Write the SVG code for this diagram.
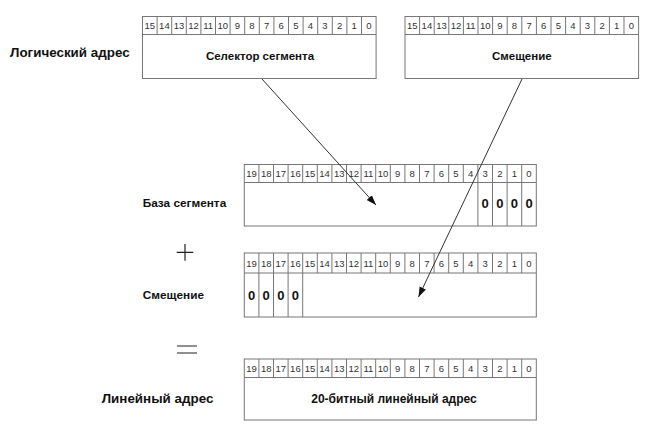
<svg xmlns="http://www.w3.org/2000/svg" width="646" height="431" viewBox="0 0 646 431">
<style>
.box{fill:#fff;stroke:#777;stroke-width:1}
.div{fill:none;stroke:#777;stroke-width:1}
.n{font-family:"Liberation Sans",Arial,sans-serif;font-size:9.5px;fill:#333;text-anchor:middle}
.lbl{font-family:"Liberation Sans",Arial,sans-serif;font-size:11.8px;font-weight:bold;fill:#111}
.big{font-size:13.4px}
.in{font-family:"Liberation Sans",Arial,sans-serif;font-size:11.5px;font-weight:bold;fill:#111;text-anchor:middle}
.z{font-family:"Liberation Sans",Arial,sans-serif;font-size:13px;font-weight:bold;fill:#111;text-anchor:middle}
.op{fill:none;stroke:#222;stroke-width:1.2}
.arr{fill:none;stroke:#333;stroke-width:1}
</style>
<defs>
<marker id="ah" markerUnits="userSpaceOnUse" markerWidth="11" markerHeight="8" refX="10" refY="3.5" orient="auto">
<path d="M0,0 L10,3.5 L0,7 z" fill="#111"/>
</marker>
</defs>
<rect width="646" height="431" fill="#fff"/>

<g id="labels">
<text class="lbl big" x="10" y="57">Логический адрес</text>
<text class="lbl" x="142.7" y="206.5">База сегмента</text>
<text class="lbl" x="142.7" y="298.5">Смещение</text>
<text class="lbl big" x="101.7" y="402.5">Линейный адрес</text>
</g>

<g id="operators">
<path class="op" d="M176.7,252.3 H193.3 M185,244 V260.7"/>
<path class="op" d="M177,346 H197 M177,353 H197"/>
</g>

<g id="selector">
<rect class="box" x="142.5" y="16.5" width="233.6" height="62"/>
<path class="div" d="M142.5,34.5 H376.1 M157.1,16.5 v18 m14.6,-18 v18 m14.6,-18 v18 m14.6,-18 v18 m14.6,-18 v18 m14.6,-18 v18 m14.6,-18 v18 m14.6,-18 v18 m14.6,-18 v18 m14.6,-18 v18 m14.6,-18 v18 m14.6,-18 v18 m14.6,-18 v18 m14.6,-18 v18 m14.6,-18 v18"/>
<g class="n">
<text x="149.8" y="29">15</text><text x="164.4" y="29">14</text><text x="179" y="29">13</text><text x="193.6" y="29">12</text><text x="208.2" y="29">11</text><text x="222.8" y="29">10</text><text x="237.4" y="29">9</text><text x="252" y="29">8</text><text x="266.6" y="29">7</text><text x="281.2" y="29">6</text><text x="295.8" y="29">5</text><text x="310.4" y="29">4</text><text x="325" y="29">3</text><text x="339.6" y="29">2</text><text x="354.2" y="29">1</text><text x="368.8" y="29">0</text>
</g>
<text class="in" x="260" y="59.5">Селектор сегмента</text>
</g>

<g id="offset">
<rect class="box" x="405" y="16.5" width="233.6" height="62"/>
<path class="div" d="M405,34.5 H638.6 M419.6,16.5 v18 m14.6,-18 v18 m14.6,-18 v18 m14.6,-18 v18 m14.6,-18 v18 m14.6,-18 v18 m14.6,-18 v18 m14.6,-18 v18 m14.6,-18 v18 m14.6,-18 v18 m14.6,-18 v18 m14.6,-18 v18 m14.6,-18 v18 m14.6,-18 v18 m14.6,-18 v18"/>
<g class="n">
<text x="412.3" y="29">15</text><text x="426.9" y="29">14</text><text x="441.5" y="29">13</text><text x="456.1" y="29">12</text><text x="470.7" y="29">11</text><text x="485.3" y="29">10</text><text x="499.9" y="29">9</text><text x="514.5" y="29">8</text><text x="529.1" y="29">7</text><text x="543.7" y="29">6</text><text x="558.3" y="29">5</text><text x="572.9" y="29">4</text><text x="587.5" y="29">3</text><text x="602.1" y="29">2</text><text x="616.7" y="29">1</text><text x="631.3" y="29">0</text>
</g>
<text class="in" x="521.8" y="59.5">Смещение</text>
</g>

<g id="base">
<rect class="box" x="244.3" y="164.5" width="292" height="61.5"/>
<path class="div" d="M244.3,182.5 H536.3 M258.9,164.5 v18 m14.6,-18 v18 m14.6,-18 v18 m14.6,-18 v18 m14.6,-18 v18 m14.6,-18 v18 m14.6,-18 v18 m14.6,-18 v18 m14.6,-18 v18 m14.6,-18 v18 m14.6,-18 v18 m14.6,-18 v18 m14.6,-18 v18 m14.6,-18 v18 m14.6,-18 v18 M477.9,164.5 V226 M492.5,164.5 V226 M507.1,164.5 V226 M521.7,164.5 V226"/>
<g class="n">
<text x="251.6" y="177">19</text><text x="266.2" y="177">18</text><text x="280.8" y="177">17</text><text x="295.4" y="177">16</text><text x="310" y="177">15</text><text x="324.6" y="177">14</text><text x="339.2" y="177">13</text><text x="353.8" y="177">12</text><text x="368.4" y="177">11</text><text x="383" y="177">10</text><text x="397.6" y="177">9</text><text x="412.2" y="177">8</text><text x="426.8" y="177">7</text><text x="441.4" y="177">6</text><text x="456" y="177">5</text><text x="470.6" y="177">4</text><text x="485.2" y="177">3</text><text x="499.8" y="177">2</text><text x="514.4" y="177">1</text><text x="529" y="177">0</text>
</g>
<g class="z">
<text x="485.2" y="207.5">0</text><text x="499.8" y="207.5">0</text><text x="514.4" y="207.5">0</text><text x="529" y="207.5">0</text>
</g>
</g>

<g id="offset20">
<rect class="box" x="244.3" y="253" width="292" height="64"/>
<path class="div" d="M244.3,273 H536.3 M258.9,253 V317 M273.5,253 V317 M288.1,253 V317 M302.7,253 V317 M317.3,253 v20 m14.6,-20 v20 m14.6,-20 v20 m14.6,-20 v20 m14.6,-20 v20 m14.6,-20 v20 m14.6,-20 v20 m14.6,-20 v20 m14.6,-20 v20 m14.6,-20 v20 m14.6,-20 v20 m14.6,-20 v20 m14.6,-20 v20 m14.6,-20 v20 m14.6,-20 v20"/>
<g class="n">
<text x="251.6" y="266.5">19</text><text x="266.2" y="266.5">18</text><text x="280.8" y="266.5">17</text><text x="295.4" y="266.5">16</text><text x="310" y="266.5">15</text><text x="324.6" y="266.5">14</text><text x="339.2" y="266.5">13</text><text x="353.8" y="266.5">12</text><text x="368.4" y="266.5">11</text><text x="383" y="266.5">10</text><text x="397.6" y="266.5">9</text><text x="412.2" y="266.5">8</text><text x="426.8" y="266.5">7</text><text x="441.4" y="266.5">6</text><text x="456" y="266.5">5</text><text x="470.6" y="266.5">4</text><text x="485.2" y="266.5">3</text><text x="499.8" y="266.5">2</text><text x="514.4" y="266.5">1</text><text x="529" y="266.5">0</text>
</g>
<g class="z">
<text x="251.6" y="299.5">0</text><text x="266.2" y="299.5">0</text><text x="280.8" y="299.5">0</text><text x="295.4" y="299.5">0</text>
</g>
</g>

<g id="linear">
<rect class="box" x="244.3" y="359" width="292" height="61"/>
<path class="div" d="M244.3,377.5 H536.3 M258.9,359 v18.5 m14.6,-18.5 v18.5 m14.6,-18.5 v18.5 m14.6,-18.5 v18.5 m14.6,-18.5 v18.5 m14.6,-18.5 v18.5 m14.6,-18.5 v18.5 m14.6,-18.5 v18.5 m14.6,-18.5 v18.5 m14.6,-18.5 v18.5 m14.6,-18.5 v18.5 m14.6,-18.5 v18.5 m14.6,-18.5 v18.5 m14.6,-18.5 v18.5 m14.6,-18.5 v18.5 m14.6,-18.5 v18.5 m14.6,-18.5 v18.5 m14.6,-18.5 v18.5 m14.6,-18.5 v18.5"/>
<g class="n">
<text x="251.6" y="371.5">19</text><text x="266.2" y="371.5">18</text><text x="280.8" y="371.5">17</text><text x="295.4" y="371.5">16</text><text x="310" y="371.5">15</text><text x="324.6" y="371.5">14</text><text x="339.2" y="371.5">13</text><text x="353.8" y="371.5">12</text><text x="368.4" y="371.5">11</text><text x="383" y="371.5">10</text><text x="397.6" y="371.5">9</text><text x="412.2" y="371.5">8</text><text x="426.8" y="371.5">7</text><text x="441.4" y="371.5">6</text><text x="456" y="371.5">5</text><text x="470.6" y="371.5">4</text><text x="485.2" y="371.5">3</text><text x="499.8" y="371.5">2</text><text x="514.4" y="371.5">1</text><text x="529" y="371.5">0</text>
</g>
<text class="in" x="394" y="402.5" style="font-size:12px">20-битный линейный адрес</text>
</g>

<g id="connectors">
<line class="arr" x1="262" y1="79" x2="376" y2="205" marker-end="url(#ah)"/>
<line class="arr" x1="522" y1="79" x2="418.5" y2="297" marker-end="url(#ah)"/>
</g>
</svg>
